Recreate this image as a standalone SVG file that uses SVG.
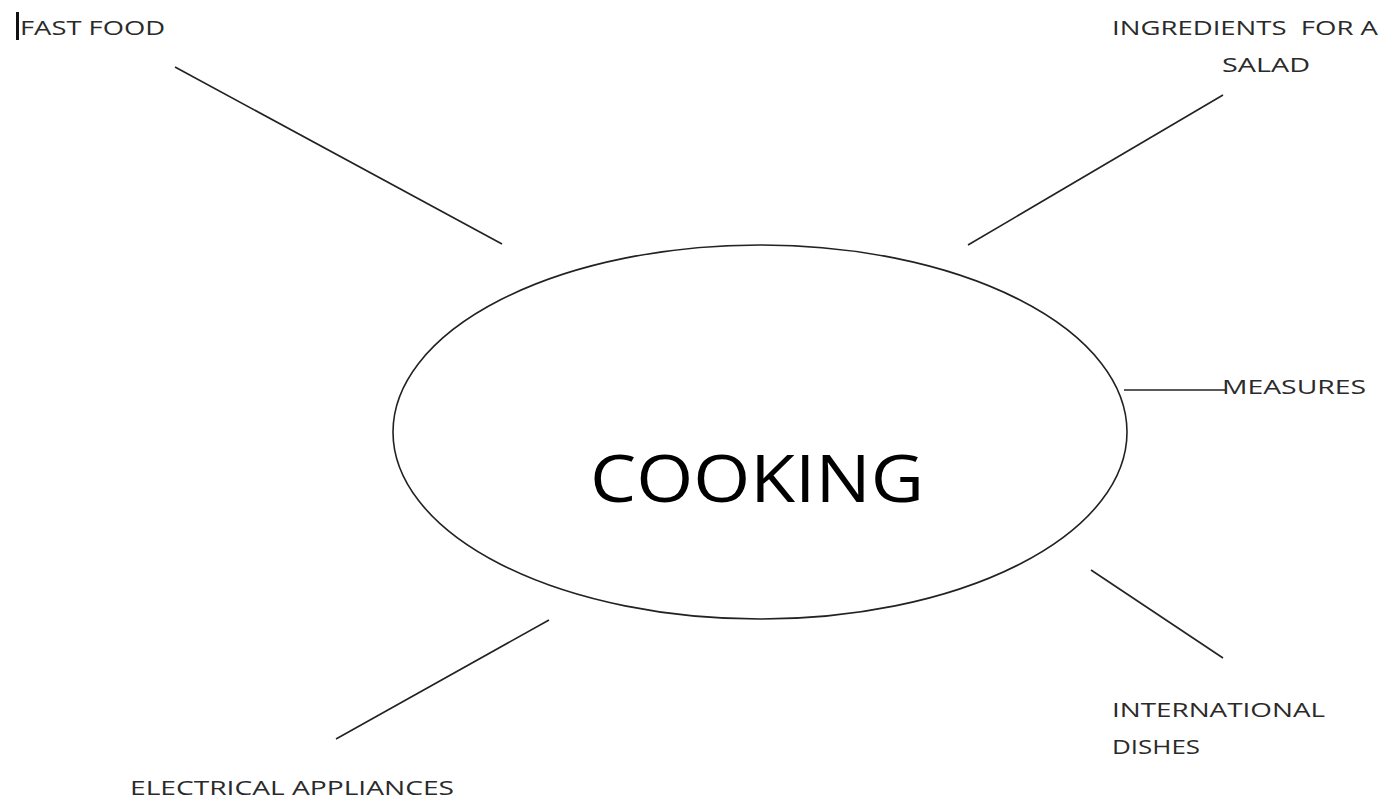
<svg xmlns="http://www.w3.org/2000/svg" width="1394" height="801" viewBox="0 0 1394 801">
<style>
.lbl{font-family:"Open Sans","Liberation Sans",sans-serif;font-size:20px;fill:#2a2a2a}
.big{font-family:"Open Sans","Liberation Sans",sans-serif;font-size:66px;fill:#000}
.ln{stroke:#222;stroke-width:1.6;fill:none}
</style>
<rect width="1394" height="801" fill="#fff"/>
<g id="connectors">
<line class="ln" x1="175" y1="67" x2="502" y2="244"/>
<line class="ln" x1="1223" y1="95" x2="968" y2="245"/>
<line class="ln" x1="1124" y1="390" x2="1225" y2="390"/>
<line class="ln" x1="1091" y1="570" x2="1223" y2="658"/>
<line class="ln" x1="549" y1="620" x2="336" y2="739"/>
</g>
<g id="cooking">
<ellipse cx="760" cy="432" rx="367" ry="187" class="ln"/>
<text class="big" x="590" y="502" textLength="334" lengthAdjust="spacingAndGlyphs">COOKING</text>
</g>
<g id="fast-food">
<rect x="16" y="12" width="3" height="28" fill="#111"/>
<text class="lbl" x="20" y="35" textLength="145" lengthAdjust="spacingAndGlyphs">FAST FOOD</text>
</g>
<g id="ingredients">
<text class="lbl" x="1112" y="35" textLength="266" lengthAdjust="spacingAndGlyphs" xml:space="preserve">INGREDIENTS  FOR A</text>
<text class="lbl" x="1222" y="72" textLength="88" lengthAdjust="spacingAndGlyphs">SALAD</text>
</g>
<g id="measures">
<text class="lbl" x="1222" y="394" textLength="144" lengthAdjust="spacingAndGlyphs">MEASURES</text>
</g>
<g id="international">
<text class="lbl" x="1112" y="717" textLength="213" lengthAdjust="spacingAndGlyphs">INTERNATIONAL</text>
<text class="lbl" x="1112" y="754" textLength="88" lengthAdjust="spacingAndGlyphs">DISHES</text>
</g>
<g id="electrical">
<text class="lbl" x="130" y="795" textLength="324" lengthAdjust="spacingAndGlyphs">ELECTRICAL APPLIANCES</text>
</g>
</svg>
